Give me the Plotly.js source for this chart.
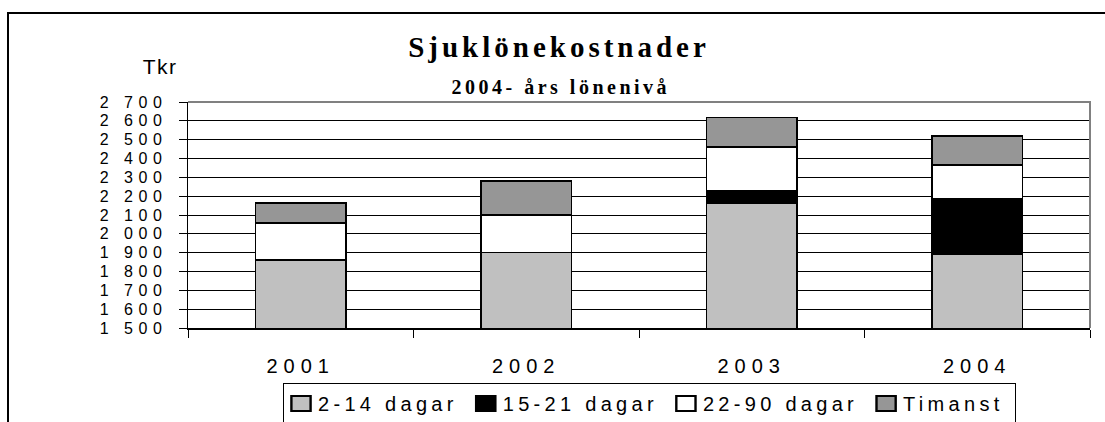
<!DOCTYPE html>
<html>
<head>
<meta charset="utf-8">
<script src="https://cdn.plot.ly/plotly-3.0.1.min.js"></script>
<style>
  html, body { margin: 0; padding: 0; background: #fff; overflow: hidden; width: 1105px; height: 422px; }
  #chart { width: 1105px; height: 422px; overflow: hidden; position: relative; }
  .xtick text { letter-spacing: 6px; }
  .ytick text { letter-spacing: 5.5px; }
  .legendtext { letter-spacing: 4.3px; transform: translateX(-6px); }
  .legendpoints { transform-box: fill-box; transform-origin: center; transform: translateX(-3px) scale(1.6, 1.25); }
  .gtitle { letter-spacing: 4px; }
  .annotation[data-index="0"] text { letter-spacing: 3.5px; }
  .annotation[data-index="1"] text { letter-spacing: 1.5px; }
</style>
</head>
<body>
<div id="chart"></div>
<script>
// ---- data ----
var years = ['2001', '2002', '2003', '2004'];
var dagar2_14 = [1860, 1900, 2163, 1891];
var dagar15_21 = [0, 0, 65, 296];
var dagar22_90 = [197, 200, 234, 179];
var timanst = [106, 181, 155, 154];

var seriesNames = ['2-14 dagar', '15-21 dagar', '22-90 dagar', 'Timanst'];
var yTickVals = [1500, 1600, 1700, 1800, 1900, 2000, 2100, 2200, 2300, 2400, 2500, 2600, 2700];
var yTickText = ['1 500', '1 600', '1 700', '1 800', '1 900', '2 000', '2 100', '2 200', '2 300', '2 400', '2 500', '2 600', '2 700'];

var titleText = 'Sjuklönekostnader';
var subtitleText = '2004- års lönenivå';
var unitText = 'Tkr';

// ---- styling ----
var colors = ['#C0C0C0', '#000000', '#FFFFFF', '#969696'];
var seriesValues = [dagar2_14, dagar15_21, dagar22_90, timanst];
var sans = 'Arial, "Liberation Sans", sans-serif';
var serif = '"Times New Roman", "Liberation Serif", serif';

var traces = seriesValues.map(function (vals, i) {
  return {
    type: 'bar',
    name: seriesNames[i],
    x: years,
    y: vals,
    marker: { color: colors[i], line: { color: '#000000', width: 1.5 } },
    hoverinfo: 'x+y+name'
  };
});

var layout = {
  width: 1105,
  height: 422,
  margin: { l: 188, r: 15, t: 102, b: 94, pad: 0, autoexpand: false },
  paper_bgcolor: '#FFFFFF',
  plot_bgcolor: '#FFFFFF',
  barmode: 'stack',
  bargap: 0.6,
  showlegend: true,
  title: {
    text: titleText,
    font: { family: serif, size: 29, color: '#000000', weight: 'bold' },
    xref: 'container', x: 559 / 1105, xanchor: 'center',
    yref: 'container', y: 1 - 47 / 422, yanchor: 'middle'
  },
  xaxis: {
    type: 'category',
    showline: true, linecolor: '#000000', linewidth: 1.5,
    ticks: 'outside', tickson: 'boundaries', ticklen: 8, tickcolor: '#000000', tickwidth: 1,
    showgrid: false, zeroline: false,
    tickfont: { family: sans, size: 20, color: '#000000' },
    ticklabelstandoff: 19,
    fixedrange: true
  },
  yaxis: {
    range: [1500, 2700],
    tickvals: yTickVals,
    ticktext: yTickText,
    showline: true, linecolor: '#000000', linewidth: 1.5,
    ticks: 'outside', ticklen: 8, tickcolor: '#000000', tickwidth: 1,
    showgrid: true, gridcolor: '#000000', gridwidth: 1,
    zeroline: false,
    tickfont: { family: sans, size: 16, color: '#000000' },
    ticklabelstandoff: 8,
    fixedrange: true
  },
  legend: {
    orientation: 'h',
    traceorder: 'normal',
    x: (283 - 188) / 902, xanchor: 'left',
    y: (328 - 383) / 226, yanchor: 'top',
    bgcolor: '#FFFFFF',
    bordercolor: '#000000',
    borderwidth: 1,
    font: { family: sans, size: 20, color: '#000000' }
  },
  annotations: [
    {
      text: subtitleText, showarrow: false,
      xref: 'paper', yref: 'paper',
      x: (561 - 188) / 902, y: 1 + (102 - 87) / 226,
      xanchor: 'center', yanchor: 'middle',
      font: { family: serif, size: 20, color: '#000000', weight: 'bold' }
    },
    {
      text: unitText, showarrow: false,
      xref: 'paper', yref: 'paper',
      x: (159.5 - 188) / 902, y: 1 + (102 - 66.5) / 226,
      xanchor: 'center', yanchor: 'middle',
      font: { family: sans, size: 21, color: '#000000' }
    }
  ],
  shapes: [
    {
      type: 'path', xref: 'paper', yref: 'paper',
      path: 'M 0 1 L 1 1 L 1 0',
      line: { color: '#808080', width: 2 }, layer: 'above'
    },
    {
      type: 'rect', xref: 'paper', yref: 'paper',
      x0: (8 - 188) / 902, x1: (1108 - 188) / 902,
      y0: (328 - 425) / 226, y1: 1 + (102 - 13) / 226,
      line: { color: '#000000', width: 2 }, fillcolor: 'rgba(0,0,0,0)', layer: 'below'
    }
  ]
};

Plotly.newPlot('chart', traces, layout, { displayModeBar: false, staticPlot: true });
</script>
</body>
</html>
